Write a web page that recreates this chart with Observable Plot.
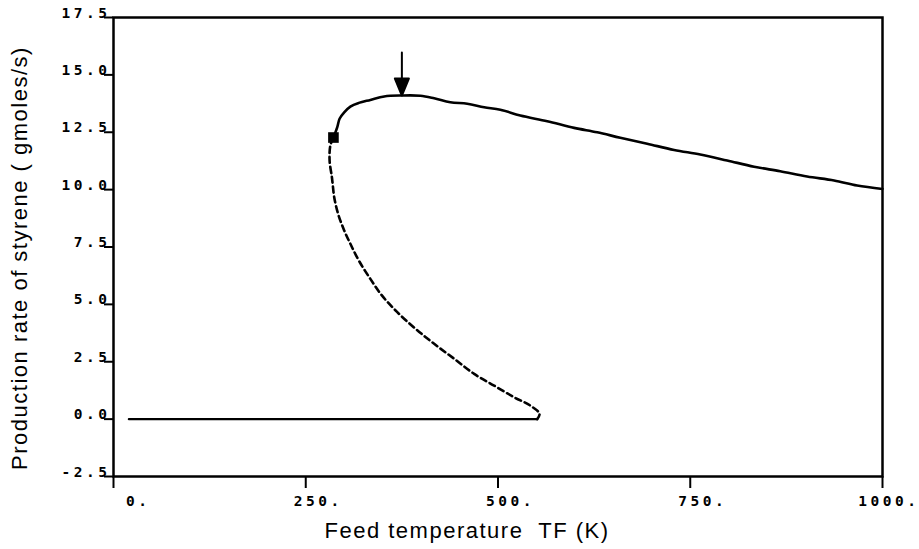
<!DOCTYPE html>
<html><head><meta charset="utf-8">
<script src="https://cdn.jsdelivr.net/npm/d3@7"></script>
<script src="https://cdn.jsdelivr.net/npm/@observablehq/plot@0.6"></script>
<style>
body{margin:0;background:#fff}
</style>
</head><body><div id="chart"></div>
<script>
// Upper (stable) branch, solid
const upperTF = [286, 291, 294, 300, 308, 319, 334, 352, 375, 399, 417, 438, 460, 482, 503, 529, 564, 599, 629, 659, 694, 729, 763, 798, 833, 867, 902, 937, 967, 1000];
const upperRate = [12.27, 12.72, 13.09, 13.37, 13.62, 13.78, 13.91, 14.06, 14.10, 14.09, 13.98, 13.81, 13.74, 13.59, 13.48, 13.23, 12.98, 12.69, 12.50, 12.26, 12.00, 11.73, 11.53, 11.27, 11.00, 10.80, 10.57, 10.40, 10.18, 10.03];
// Middle (unstable) branch, dashed
const middleTF = [286, 282, 281, 284, 285, 287, 292, 300, 308, 319, 334, 349, 369, 393, 417, 443, 469, 495, 521, 542, 554, 551];
const middleRate = [12.27, 11.92, 11.27, 10.54, 10.25, 9.67, 8.95, 8.22, 7.64, 6.91, 6.11, 5.39, 4.66, 3.93, 3.28, 2.63, 1.97, 1.46, 0.95, 0.59, 0.23, 0.00];
// Lower (stable) branch, solid
const lowerTF = [551, 500, 400, 300, 200, 100, 20];
const lowerRate = [0.0, 0.0, 0.0, 0.0, 0.0, 0.0, 0.0];
// Limit point marker and maximum arrow
const markerTF = [286], markerRate = [12.27];
const arrowTF = [375], arrowRate = [14.1];
// Ticks
const xTicks = [0, 250, 500, 750, 1000];
const xTickLabels = ["0.", "250.", "500.", "750.", "1000."];
const yTicks = [-2.5, 0, 2.5, 5, 7.5, 10, 12.5, 15, 17.5];
const yTickLabels = ["-2.5", "0.0", "2.5", "5.0", "7.5", "10.0", "12.5", "15.0", "17.5"];
const xTitle = "Feed temperature  TF (K)";
const yTitle = "Production rate of styrene ( gmoles/s)";

const toRows = (xs, ys) => xs.map((x, i) => ({TF: x, rate: ys[i]}));
const upper = toRows(upperTF, upperRate);
const middle = toRows(middleTF, middleRate);
const lower = toRows(lowerTF, lowerRate);
const marker = toRows(markerTF, markerRate);
const arrow = toRows(arrowTF, arrowRate);
const xMap = new Map(xTicks.map((t, i) => [t, xTickLabels[i]]));
const yMap = new Map(yTicks.map((t, i) => [t, yTickLabels[i]]));

const tickFont = {fontFamily: "DejaVu Sans Mono", fontWeight: "bold", fontSize: 14.5};
const titleFont = {fontFamily: "Liberation Sans, Arial, sans-serif", fontSize: 22};

const arrowShape = {
  draw(context, l) {
    context.moveTo(0, 0);
    context.lineTo(0, -l + 14);
    context.moveTo(-7, -l + 17);
    context.lineTo(0, -l);
    context.lineTo(7, -l + 17);
    context.closePath();
  }
};

const chart = Plot.plot({
  width: 919, height: 549,
  marginLeft: 113, marginRight: 37, marginTop: 17, marginBottom: 73,
  style: {background: "#fff", color: "#000", overflow: "visible"},
  x: {domain: [0, 1000], label: null},
  y: {domain: [-2.5, 17.5], label: null},
  marks: [
    Plot.axisX({ticks: xTicks, tickSize: 12, strokeWidth: 2, tickFormat: () => "", label: null}),
    Plot.axisX({ticks: xTicks, tickSize: 0, tickPadding: 19, tickFormat: d => xMap.get(d), textAnchor: "end", dx: 37, label: null, ...tickFont}),
    Plot.axisY({ticks: yTicks, tickSize: 9, strokeWidth: 2, tickFormat: () => "", label: null}),
    Plot.axisY({ticks: yTicks, tickSize: 0, tickPadding: 3, tickFormat: d => yMap.get(d), textAnchor: "end", lineAnchor: "bottom", label: null, ...tickFont}),
    Plot.frame({strokeWidth: 2.5}),
    Plot.line(lower, {x: "TF", y: "rate", strokeWidth: 2.2}),
    Plot.line(middle, {x: "TF", y: "rate", strokeWidth: 2.6, strokeDasharray: "6,4", curve: "catmull-rom"}),
    Plot.line(upper, {x: "TF", y: "rate", strokeWidth: 2.6, curve: "catmull-rom"}),
    Plot.dot(marker, {x: "TF", y: "rate", symbol: "square", r: 6, fill: "black", stroke: null}),
    Plot.vector(arrow, {x: "TF", y: "rate", rotate: 180, length: 43, anchor: "end", shape: arrowShape, fill: "black", stroke: "black", strokeWidth: 2}),
    Plot.text([xTitle], {frameAnchor: "bottom", dx: -31, dy: 61, lineAnchor: "bottom", textAnchor: "middle", ...titleFont}),
    Plot.text([yTitle], {frameAnchor: "left", rotate: -90, dx: -94, dy: 11, textAnchor: "middle", lineAnchor: "middle", ...titleFont})
  ]
});
// Inline text styling (letter spacing / weight)
chart.querySelectorAll("text").forEach(t => {
  const s = t.textContent;
  if (xTickLabels.includes(s) || yTickLabels.includes(s)) {
    t.style.fontFamily = "'DejaVu Sans Mono', monospace";
    t.style.fontWeight = "bold";
    t.style.fontSize = "14.5px";
    t.style.letterSpacing = "3.5px";
  } else if (s === xTitle || s === yTitle) {
    t.style.fontFamily = "'Liberation Sans', Arial, sans-serif";
    t.style.fontSize = "22px";
    t.style.letterSpacing = "1.5px";
    t.style.whiteSpace = "pre";
  }
});
document.getElementById("chart").appendChild(chart);
</script>
</body></html>
